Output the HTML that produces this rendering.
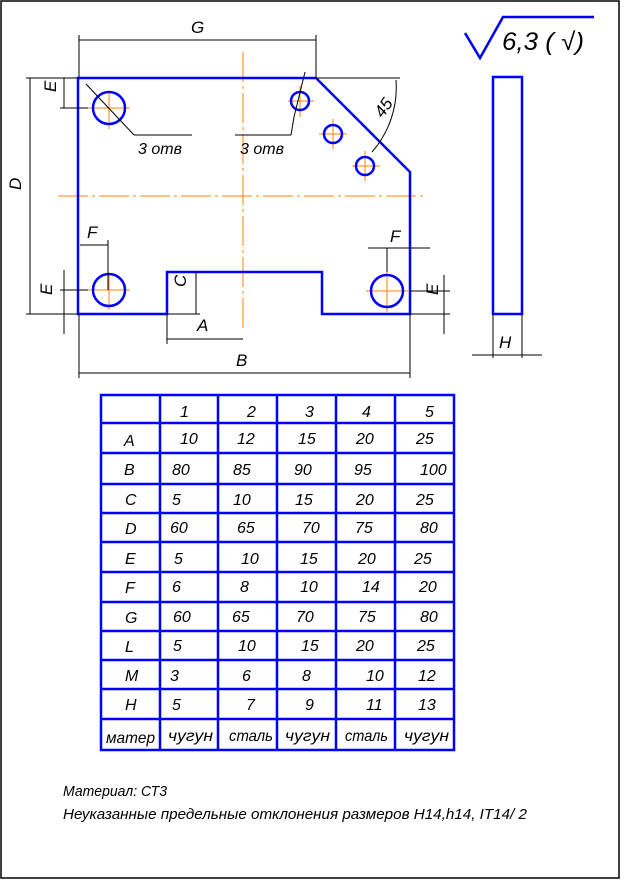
<!DOCTYPE html>
<html><head><meta charset="utf-8"><style>
html,body{margin:0;padding:0;background:#fff;}
svg{display:block;}
text{font-family:"Liberation Sans",sans-serif;font-style:italic;fill:#000;}
</style></head><body>
<svg width="624" height="882" viewBox="0 0 624 882" xmlns="http://www.w3.org/2000/svg">
<rect x="1" y="1" width="618" height="877" fill="none" stroke="#000" stroke-width="1.5"/>
<g stroke="#ff8000" stroke-width="1" fill="none">
<line x1="58" y1="196" x2="423" y2="196" stroke-dasharray="30,4,3,4"/>
<line x1="243" y1="52" x2="243" y2="332" stroke-dasharray="30,4,3,4"/>
<line x1="88" y1="108" x2="130" y2="108"/><line x1="109" y1="92" x2="109" y2="129"/>
<line x1="88" y1="290" x2="130" y2="290"/><line x1="109" y1="273" x2="109" y2="310"/>
<line x1="366" y1="291" x2="408" y2="291"/><line x1="387" y1="272" x2="387" y2="312"/>
<line x1="288" y1="101" x2="314" y2="101"/><line x1="300" y1="86" x2="300" y2="117"/>
<line x1="319" y1="134" x2="347" y2="134"/><line x1="333" y1="119" x2="333" y2="149"/>
<line x1="352" y1="166" x2="380" y2="166"/><line x1="365" y1="151" x2="365" y2="181"/>
</g>
<g stroke="#0000ff" stroke-width="2.5" fill="none">
<polygon points="78,78 316,78 410,172 410,314 322,314 322,272 167,272 167,314 78,314"/>
<circle cx="109" cy="108" r="16"/>
<circle cx="109" cy="290" r="16"/>
<circle cx="387" cy="291" r="16"/>
<circle cx="300" cy="101" r="9"/>
<circle cx="333" cy="134" r="9"/>
<circle cx="365" cy="166" r="9"/>
<rect x="493" y="77" width="29" height="237"/>
<polyline points="465,33 480,58 503,17 594,17"/>
</g>
<g stroke="#000" stroke-width="1" fill="none">
<line x1="79" y1="35" x2="79" y2="78"/><line x1="316" y1="35" x2="316" y2="78"/>
<line x1="79" y1="40" x2="316" y2="40"/>
<line x1="26" y1="78" x2="78" y2="78"/><line x1="26" y1="314" x2="78" y2="314"/>
<line x1="30" y1="78" x2="30" y2="314"/>
<line x1="60" y1="108" x2="88" y2="108"/><line x1="64" y1="78" x2="64" y2="108"/>
<line x1="60" y1="290" x2="88" y2="290"/><line x1="64" y1="270" x2="64" y2="334"/>
<line x1="316" y1="78" x2="400" y2="78"/>
<line x1="80" y1="245" x2="108" y2="245"/><line x1="108" y1="240" x2="108" y2="290"/>
<line x1="368" y1="248" x2="430" y2="248"/><line x1="387" y1="248" x2="387" y2="272"/>
<line x1="410" y1="291" x2="450" y2="291"/><line x1="410" y1="314" x2="450" y2="314"/>
<line x1="444" y1="275" x2="444" y2="334"/>
<line x1="167" y1="314" x2="200" y2="314"/><line x1="196" y1="272" x2="196" y2="314"/>
<line x1="167" y1="314" x2="167" y2="344"/><line x1="167" y1="339" x2="243" y2="339"/>
<line x1="79" y1="314" x2="79" y2="378"/><line x1="410" y1="314" x2="410" y2="378"/>
<line x1="79" y1="373" x2="410" y2="373"/>
<line x1="493" y1="314" x2="493" y2="358"/><line x1="522" y1="314" x2="522" y2="358"/>
<line x1="472" y1="355" x2="542" y2="355"/>
<line x1="86" y1="84" x2="134" y2="135"/><line x1="134" y1="135" x2="192" y2="135"/>
<line x1="305" y1="72" x2="294" y2="117"/><line x1="294" y1="117" x2="291" y2="135"/><line x1="291" y1="135" x2="235" y2="135"/>
<path d="M372,152 A98,98 0 0 0 396,80"/>
</g>
<g font-size="17">
<text x="191" y="33">G</text>
<text x="20" y="203" transform="rotate(-90 14 196)">D</text>
<text x="56" y="104" transform="rotate(-90 50 98)">E</text>
<text x="52" y="307" transform="rotate(-90 46 301)">E</text>
<text x="438" y="307" transform="rotate(-90 432 301)">E</text>
<text x="183" y="300" transform="rotate(-90 178 292)">C</text>
<text x="87" y="238">F</text>
<text x="390" y="242">F</text>
<text x="197" y="331">A</text>
<text x="236" y="366">B</text>
<text x="499" y="348">H</text>
<text x="372" y="118" transform="rotate(-55 378 108)">45</text>
<text x="138" y="154" font-size="16">3 отв</text>
<text x="240" y="154" font-size="16">3 отв</text>
<text x="502" y="50" font-size="25" font-style="normal" textLength="82" lengthAdjust="spacingAndGlyphs">6,3 ( √)</text>
</g>
<g stroke="#0000ff" stroke-width="2.5" fill="none">
<rect x="101" y="395" width="353" height="355"/>
<line x1="160" y1="395" x2="160" y2="750"/><line x1="218" y1="395" x2="218" y2="750"/>
<line x1="277" y1="395" x2="277" y2="750"/><line x1="336" y1="395" x2="336" y2="750"/>
<line x1="395" y1="395" x2="395" y2="750"/>
<line x1="101" y1="423" x2="454" y2="423"/><line x1="101" y1="453" x2="454" y2="453"/>
<line x1="101" y1="484" x2="454" y2="484"/><line x1="101" y1="513" x2="454" y2="513"/>
<line x1="101" y1="542" x2="454" y2="542"/><line x1="101" y1="572" x2="454" y2="572"/>
<line x1="101" y1="602" x2="454" y2="602"/><line x1="101" y1="631" x2="454" y2="631"/>
<line x1="101" y1="660" x2="454" y2="660"/><line x1="101" y1="689" x2="454" y2="689"/>
<line x1="101" y1="719" x2="454" y2="719"/>
</g>
<g font-size="16">
<text x="180" y="417">1</text><text x="247" y="417">2</text><text x="305" y="417">3</text><text x="362" y="417">4</text><text x="425" y="417">5</text>
<text x="124" y="446">A</text><text x="180" y="444">10</text><text x="237" y="444">12</text><text x="298" y="444">15</text><text x="356" y="444">20</text><text x="416" y="444">25</text>
<text x="124" y="475">B</text><text x="172" y="475">80</text><text x="233" y="475">85</text><text x="294" y="475">90</text><text x="354" y="475">95</text><text x="420" y="475">100</text>
<text x="125" y="505">C</text><text x="172" y="505">5</text><text x="233" y="505">10</text><text x="295" y="505">15</text><text x="356" y="505">20</text><text x="416" y="505">25</text>
<text x="125" y="534">D</text><text x="170" y="533">60</text><text x="237" y="533">65</text><text x="302" y="533">70</text><text x="355" y="533">75</text><text x="420" y="533">80</text>
<text x="125" y="564">E</text><text x="174" y="564">5</text><text x="241" y="564">10</text><text x="300" y="564">15</text><text x="358" y="564">20</text><text x="414" y="564">25</text>
<text x="125" y="593">F</text><text x="172" y="592">6</text><text x="240" y="592">8</text><text x="300" y="592">10</text><text x="362" y="592">14</text><text x="419" y="592">20</text>
<text x="125" y="623">G</text><text x="173" y="622">60</text><text x="232" y="622">65</text><text x="296" y="622">70</text><text x="358" y="622">75</text><text x="420" y="622">80</text>
<text x="125" y="652">L</text><text x="173" y="651">5</text><text x="238" y="651">10</text><text x="301" y="651">15</text><text x="356" y="651">20</text><text x="417" y="651">25</text>
<text x="125" y="681">M</text><text x="170" y="681">3</text><text x="242" y="681">6</text><text x="302" y="681">8</text><text x="366" y="681">10</text><text x="418" y="681">12</text>
<text x="125" y="710">H</text><text x="172" y="710">5</text><text x="246" y="710">7</text><text x="305" y="710">9</text><text x="366" y="710">11</text><text x="418" y="710">13</text>
<text x="106" y="743" textLength="49" lengthAdjust="spacingAndGlyphs">матер</text>
<text x="168" y="741" textLength="45" lengthAdjust="spacingAndGlyphs">чугун</text>
<text x="229" y="741" textLength="44" lengthAdjust="spacingAndGlyphs">сталь</text>
<text x="285" y="741" textLength="45" lengthAdjust="spacingAndGlyphs">чугун</text>
<text x="345" y="741" textLength="43" lengthAdjust="spacingAndGlyphs">сталь</text>
<text x="404" y="741" textLength="45" lengthAdjust="spacingAndGlyphs">чугун</text>
</g>
<g font-size="15">
<text x="63" y="796" textLength="104" lengthAdjust="spacingAndGlyphs">Материал: СТ3</text>
<text x="63" y="819" textLength="464" lengthAdjust="spacingAndGlyphs">Неуказанные предельные отклонения размеров H14,h14, IT14/ 2</text>
</g>
</svg>
</body></html>
